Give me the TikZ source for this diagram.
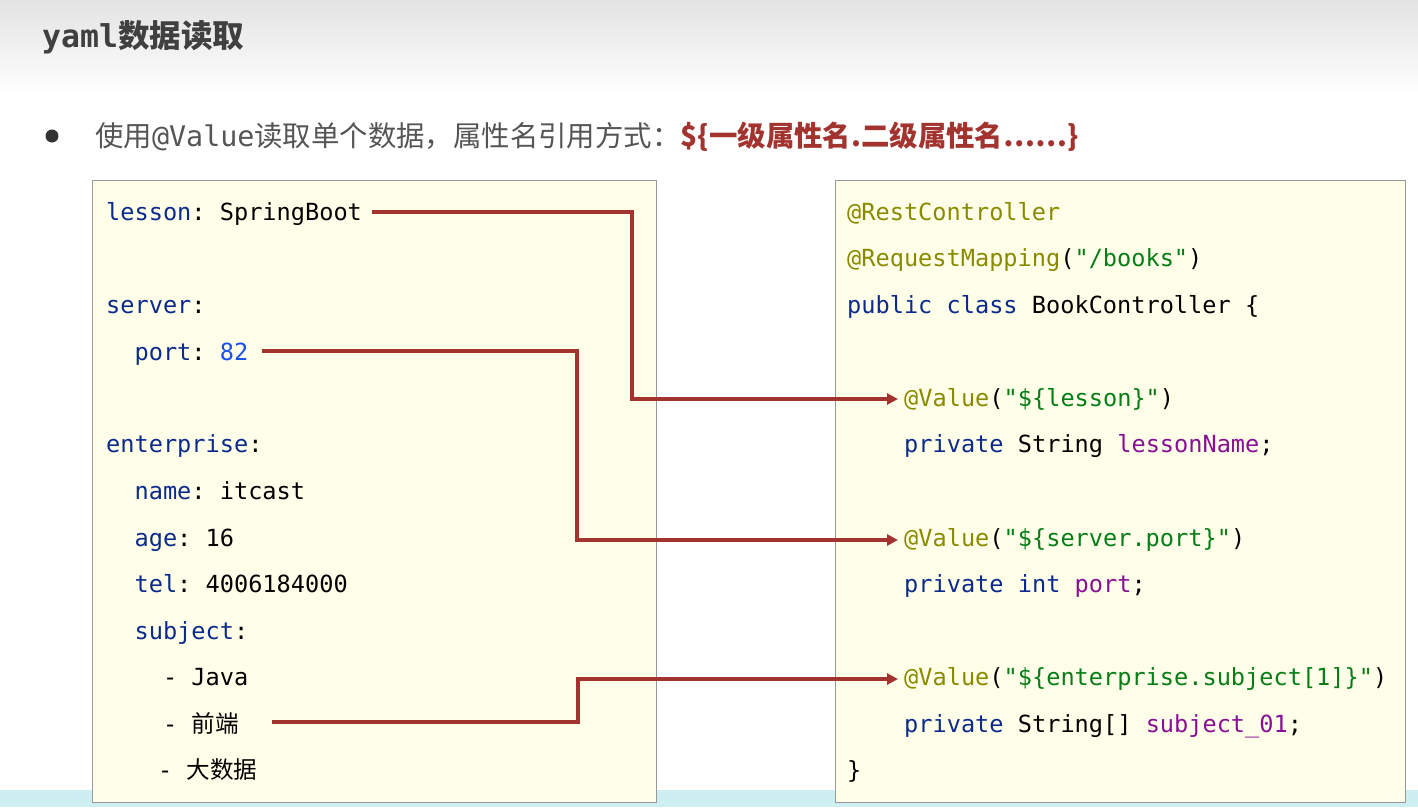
\documentclass[tikz,border=0pt]{standalone}
\usepackage{fontspec}
\setmonofont{DejaVu Sans Mono}
\newfontfamily\cjk{Noto Sans CJK SC}
\usetikzlibrary{arrows.meta}
\definecolor{kw}{HTML}{0B2A8C}
\definecolor{num}{HTML}{1750EB}
\definecolor{ann}{HTML}{8A8A00}
\definecolor{str}{HTML}{067D17}
\definecolor{pur}{HTML}{871094}
\definecolor{arr}{HTML}{A3332E}
\definecolor{boxfill}{HTML}{FFFFE9}
\definecolor{tgray}{HTML}{555555}
\definecolor{cyanish}{HTML}{CDEFF2}
\newcommand{\cn}[1]{{\cjk #1}}
\begin{document}
\begin{tikzpicture}[x=1pt,y=-1pt,
  code/.style={anchor=base west,inner sep=0pt,font=\ttfamily\fontsize{23.6}{26}\selectfont},
  codebox/.style={draw=black!40,fill=boxfill,line width=0.8pt},
  link/.style={draw=arr,line width=3.8pt,-{Triangle[length=11pt,width=11pt]}}]
\useasboundingbox (0,0) rectangle (1418,807);
\shade[top color=black!11,bottom color=white] (0,0) rectangle (1418,95);
\fill[cyanish] (0,790) rectangle (1418,807);
\node[anchor=base west,inner sep=0pt,text=black!75,font=\cjk\bfseries\fontsize{31.5}{34}\selectfont] (title) at (42,47) {\ttfamily\bfseries yaml\cjk 数据读取};
\fill[black!80] (52,136) circle (6.5);
\node[anchor=base west,inner sep=0pt,text=tgray,font=\cjk\fontsize{28.4}{32}\selectfont] (sub) at (95,146) {使用{\ttfamily @Value}读取单个数据，属性名引用方式：\textcolor{arr}{\bfseries\$\{一级属性名.二级属性名……\}}};
\node[codebox,minimum width=564,minimum height=622,anchor=north west] (L) at (92,180) {};
\node[codebox,minimum width=570,minimum height=622,anchor=north west] (R) at (835,180) {};
% left code
\node[code] (l1) at (106,220) {\textcolor{kw}{lesson}: SpringBoot};
\node[code] (l2) at (106,313) {\textcolor{kw}{server}:};
\node[code] (l3) at (106,360) {\ \ \textcolor{kw}{port}: \textcolor{num}{82}};
\node[code] (l4) at (106,452) {\textcolor{kw}{enterprise}:};
\node[code] (l5) at (106,499) {\ \ \textcolor{kw}{name}: itcast};
\node[code] (l6) at (106,546) {\ \ \textcolor{kw}{age}: 16};
\node[code] (l7) at (106,592) {\ \ \textcolor{kw}{tel}: 4006184000};
\node[code] (l8) at (106,639) {\ \ \textcolor{kw}{subject}:};
\node[code] (l9) at (106,685) {\ \ \ \ - Java};
\node[code] (l10) at (106,732) {\ \ \ \ - \cn{前端}};
\node[code] (l11) at (158,778) {- \cn{大数据}};
% right code
\node[code] (r1) at (847,220) {\textcolor{ann}{@RestController}};
\node[code] (r2) at (847,266) {\textcolor{ann}{@RequestMapping}(\textcolor{str}{"/books"})};
\node[code] (r3) at (847,313) {\textcolor{kw}{public class} BookController \{};
\node[code] (r4) at (904,406) {\textcolor{ann}{@Value}(\textcolor{str}{"\$\{lesson\}"})};
\node[code] (r5) at (904,452) {\textcolor{kw}{private} String \textcolor{pur}{lessonName};};
\node[code] (r6) at (904,546) {\textcolor{ann}{@Value}(\textcolor{str}{"\$\{server.port\}"})};
\node[code] (r7) at (904,592) {\textcolor{kw}{private int} \textcolor{pur}{port};};
\node[code] (r8) at (904,685) {\textcolor{ann}{@Value}(\textcolor{str}{"\$\{enterprise.subject[1]\}"})};
\node[code] (r9) at (904,732) {\textcolor{kw}{private} String[] \textcolor{pur}{subject\_01};};
\node[code] (r10) at (847,778) {\}};
% connectors
\coordinate (a1) at (372,212); \coordinate (b1) at (898,399);
\coordinate (a2) at (262,351); \coordinate (b2) at (898,540);
\coordinate (a3) at (272,722); \coordinate (b3) at (898,679);
\draw[link] (a1) -- (632,212) -- (632,399) -- (b1);
\draw[link] (a2) -- (577,351) -- (577,540) -- (b2);
\draw[link] (a3) -- (578,722) -- (578,679) -- (b3);
\end{tikzpicture}
\end{document}
